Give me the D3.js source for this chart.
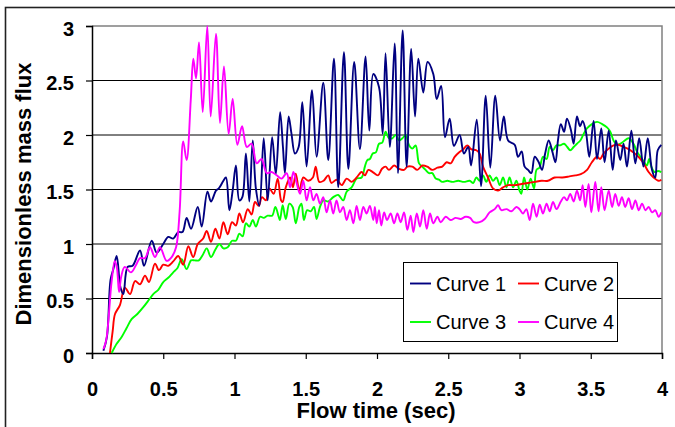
<!DOCTYPE html>
<html>
<head>
<meta charset="utf-8">
<script src="https://cdn.jsdelivr.net/npm/d3@7"></script>
<style>
  body { margin: 0; background: #fff; }
  svg { display: block; font-family: Arial, "Liberation Sans", sans-serif; }
</style>
</head>
<body>
<div id="chart"></div>
<script>
// DATA
var seriesNames = ["Curve 1", "Curve 2", "Curve 3", "Curve 4"];
var xTicks = [0, 0.5, 1, 1.5, 2, 2.5, 3, 3.5, 4];
var yTicks = [0, 0.5, 1, 1.5, 2, 2.5, 3];

var curve1Time = [0.08,0.105,0.13,0.15,0.173,0.2,0.22,0.25,0.285,0.337,0.365,0.419,0.454,0.5,0.535,0.57,0.605,0.635,0.664,0.695,0.742,0.77,0.81,0.835,0.87,0.89,0.922,0.94,0.964,0.987,1.01,1.034,1.055,1.08,1.104,1.128,1.15,1.175,1.205,1.233,1.264,1.29,1.32,1.34,1.354,1.38,1.40,1.424,1.45,1.476,1.506,1.544,1.576,1.623,1.658,1.698,1.728,1.768,1.799,1.84,1.88,1.92,1.946,1.974,2.014,2.04,2.06,2.09,2.124,2.147,2.18,2.208,2.24,2.267,2.29,2.325,2.355,2.395,2.419,2.45,2.477,2.51,2.54,2.58,2.61,2.64,2.66,2.70,2.73,2.763,2.795,2.83,2.863,2.89,2.92,2.966,2.99,3.015,3.036,3.06,3.083,3.107,3.135,3.158,3.18,3.205,3.23,3.252,3.27,3.29,3.313,3.333,3.36,3.38,3.403,3.425,3.443,3.466,3.49,3.52,3.544,3.574,3.597,3.626,3.654,3.677,3.707,3.73,3.754,3.785,3.813,3.84,3.87,3.9,3.93,3.953,3.97,3.995];
var curve1Flux = [0.02,0.15,0.67,0.77,0.89,0.6,0.54,0.79,0.80,0.94,0.80,1.03,0.92,1.0,1.065,1.05,1.11,1.11,1.24,1.14,1.34,1.16,1.48,1.39,1.49,1.51,1.58,1.61,1.31,1.49,1.72,1.40,1.43,1.83,1.39,1.95,1.51,1.35,1.97,1.40,1.98,1.64,2.21,1.89,1.65,2.17,2.01,1.83,1.89,2.30,1.71,2.41,1.80,2.48,1.77,2.70,1.52,2.76,1.69,2.67,1.87,2.72,2.04,2.56,2.44,2.01,2.75,1.89,2.84,1.65,2.96,1.71,2.79,2.17,2.70,2.39,2.67,2.56,2.33,2.45,1.98,2.15,1.90,2.00,1.83,1.89,1.72,2.14,1.53,2.36,1.70,2.36,1.95,2.17,1.95,1.91,1.80,1.85,1.71,1.68,1.65,1.80,1.75,1.68,1.83,1.95,1.85,1.75,1.95,2.10,2.03,2.15,2.05,1.92,2.17,2.08,2.13,2.03,1.80,2.13,1.78,2.06,1.75,2.04,1.68,1.95,1.77,1.92,1.71,2.04,1.74,1.97,1.71,1.97,1.68,1.61,1.86,1.91];

var curve2Time = [0.126,0.145,0.161,0.196,0.23,0.267,0.302,0.337,0.372,0.40,0.442,0.47,0.50,0.535,0.57,0.605,0.64,0.676,0.71,0.742,0.78,0.805,0.835,0.866,0.894,0.922,0.952,0.983,1.01,1.034,1.06,1.093,1.12,1.144,1.17,1.193,1.22,1.245,1.275,1.303,1.327,1.338,1.36,1.39,1.41,1.43,1.455,1.483,1.518,1.55,1.57,1.595,1.625,1.658,1.68,1.717,1.752,1.787,1.822,1.857,1.892,1.915,1.939,1.97,2.007,2.035,2.06,2.084,2.12,2.155,2.19,2.213,2.248,2.283,2.318,2.353,2.388,2.424,2.458,2.489,2.517,2.545,2.575,2.606,2.634,2.66,2.697,2.72,2.744,2.779,2.814,2.85,2.885,2.92,2.966,3.013,3.06,3.107,3.155,3.2,3.247,3.3,3.35,3.392,3.43,3.474,3.508,3.544,3.565,3.59,3.626,3.66,3.695,3.73,3.765,3.8,3.835,3.871,3.906,3.941,3.976,3.995];
var curve2Flux = [0,0.2,0.355,0.44,0.60,0.54,0.66,0.63,0.71,0.65,0.82,0.76,0.81,0.80,0.84,0.89,0.81,0.98,0.88,1.0,1.05,1.12,1.02,1.14,1.05,1.20,1.09,1.20,1.17,1.28,1.20,1.32,1.27,1.385,1.35,1.43,1.40,1.51,1.46,1.60,1.40,1.385,1.52,1.61,1.52,1.645,1.49,1.61,1.58,1.61,1.71,1.57,1.58,1.63,1.56,1.59,1.54,1.60,1.57,1.61,1.66,1.63,1.68,1.66,1.63,1.69,1.71,1.68,1.72,1.69,1.68,1.71,1.71,1.68,1.72,1.71,1.68,1.70,1.71,1.75,1.74,1.80,1.84,1.87,1.905,1.87,1.86,1.83,1.71,1.61,1.51,1.49,1.52,1.54,1.54,1.55,1.56,1.57,1.58,1.58,1.61,1.61,1.62,1.63,1.64,1.68,1.75,1.80,1.78,1.83,1.875,1.905,1.91,1.89,1.87,1.84,1.80,1.74,1.66,1.61,1.58,1.59];

var curve3Time = [0.138,0.173,0.208,0.243,0.278,0.32,0.36,0.395,0.43,0.465,0.50,0.535,0.57,0.60,0.629,0.664,0.695,0.72,0.75,0.777,0.805,0.835,0.866,0.894,0.922,0.952,0.983,1.01,1.034,1.057,1.08,1.104,1.128,1.15,1.18,1.205,1.233,1.264,1.287,1.31,1.319,1.338,1.36,1.385,1.408,1.43,1.455,1.47,1.487,1.51,1.535,1.558,1.576,1.6,1.623,1.658,1.693,1.728,1.763,1.787,1.822,1.857,1.892,1.915,1.932,1.95,1.97,1.992,2.014,2.037,2.06,2.084,2.108,2.131,2.155,2.178,2.201,2.225,2.248,2.271,2.295,2.318,2.341,2.365,2.388,2.412,2.435,2.458,2.494,2.529,2.57,2.61,2.65,2.675,2.697,2.72,2.744,2.767,2.79,2.814,2.838,2.861,2.885,2.908,2.93,2.955,2.978,3.0,3.013,3.032,3.055,3.078,3.102,3.119,3.14,3.165,3.19,3.212,3.235,3.259,3.285,3.313,3.335,3.356,3.38,3.403,3.427,3.45,3.473,3.508,3.544,3.58,3.614,3.637,3.66,3.684,3.707,3.73,3.766,3.8,3.824,3.848,3.871,3.894,3.91,3.925,3.948,3.972,3.995];
var curve3Flux = [0,0.085,0.147,0.23,0.31,0.36,0.42,0.48,0.54,0.58,0.65,0.69,0.74,0.78,0.86,0.77,0.85,0.85,0.85,0.90,0.96,0.88,0.95,1.0,0.96,0.97,1.03,1.03,1.095,1.07,1.19,1.16,1.22,1.16,1.25,1.24,1.26,1.26,1.34,1.25,1.22,1.355,1.23,1.37,1.34,1.19,1.34,1.37,1.22,1.31,1.30,1.34,1.23,1.34,1.40,1.39,1.43,1.45,1.40,1.48,1.52,1.60,1.61,1.71,1.77,1.78,1.83,1.84,1.92,1.93,2.03,1.97,1.97,2.0,1.95,1.97,2.0,1.905,1.875,1.905,1.74,1.71,1.68,1.65,1.65,1.60,1.59,1.57,1.58,1.57,1.58,1.57,1.58,1.56,1.61,1.58,1.63,1.57,1.63,1.58,1.61,1.54,1.61,1.52,1.61,1.52,1.58,1.49,1.46,1.61,1.50,1.60,1.51,1.68,1.70,1.80,1.78,1.89,1.86,1.905,1.905,1.92,1.89,1.86,1.89,1.92,1.95,2.01,2.06,2.10,2.12,2.10,2.07,2.03,1.95,1.91,1.92,1.94,1.97,1.92,1.85,1.80,1.76,1.72,1.78,1.71,1.66,1.67,1.66];

var curve4Time = [0.08,0.10,0.138,0.16,0.175,0.19,0.205,0.23,0.274,0.31,0.337,0.372,0.407,0.442,0.477,0.524,0.559,0.59,0.615,0.64,0.664,0.693,0.711,0.73,0.751,0.777,0.809,0.833,0.87,0.898,0.926,0.959,0.987,1.02,1.053,1.086,1.12,1.156,1.19,1.226,1.26,1.296,1.33,1.366,1.39,1.413,1.436,1.46,1.483,1.506,1.53,1.553,1.576,1.6,1.623,1.646,1.67,1.693,1.716,1.74,1.763,1.787,1.81,1.834,1.857,1.88,1.904,1.927,1.95,1.974,1.985,1.998,2.014,2.03,2.05,2.07,2.096,2.12,2.143,2.166,2.19,2.213,2.236,2.255,2.279,2.302,2.325,2.349,2.372,2.395,2.424,2.447,2.482,2.517,2.552,2.587,2.622,2.653,2.68,2.72,2.756,2.79,2.826,2.85,2.873,2.908,2.943,2.978,3.0,3.025,3.048,3.072,3.095,3.12,3.142,3.165,3.19,3.212,3.235,3.26,3.29,3.313,3.333,3.356,3.38,3.403,3.425,3.443,3.462,3.485,3.504,3.532,3.555,3.574,3.597,3.626,3.65,3.672,3.696,3.719,3.742,3.766,3.79,3.813,3.837,3.86,3.884,3.907,3.93,3.953,3.976,3.995];
var curve4Flux = [0.035,0.12,0.66,0.845,0.78,0.56,0.70,0.79,0.74,0.81,0.87,0.87,0.97,0.88,0.97,0.845,0.88,0.97,1.3,1.94,1.77,2.32,2.70,2.52,2.85,2.21,3.0,2.17,2.93,2.11,2.63,2.01,2.33,1.91,2.08,1.89,1.92,1.74,1.78,1.65,1.66,1.63,1.60,1.65,1.52,1.66,1.56,1.46,1.58,1.40,1.52,1.40,1.46,1.37,1.43,1.29,1.40,1.28,1.40,1.29,1.34,1.22,1.31,1.19,1.35,1.22,1.34,1.28,1.35,1.22,1.34,1.19,1.31,1.17,1.29,1.22,1.28,1.19,1.28,1.20,1.29,1.13,1.26,1.11,1.28,1.16,1.31,1.14,1.28,1.19,1.25,1.20,1.25,1.22,1.24,1.23,1.25,1.24,1.20,1.20,1.23,1.29,1.32,1.355,1.31,1.32,1.30,1.34,1.32,1.28,1.32,1.22,1.37,1.25,1.36,1.28,1.37,1.30,1.385,1.32,1.39,1.43,1.40,1.46,1.39,1.49,1.40,1.54,1.34,1.55,1.29,1.57,1.30,1.52,1.31,1.49,1.34,1.46,1.35,1.43,1.34,1.42,1.32,1.40,1.31,1.37,1.31,1.34,1.29,1.31,1.25,1.29];

var seriesColors = ["#000080", "#ff0000", "#00ff00", "#ff00ff"];

var width = 675, height = 427;
var margin = {top: 26, right: 13, bottom: 74, left: 92};

var svg = d3.select("#chart").append("svg")
  .attr("width", width)
  .attr("height", height);

svg.append("rect")
  .attr("width", width).attr("height", height)
  .attr("fill", "#fff");

// outer chart border (runs off the right and bottom edge)
svg.append("rect")
  .attr("x", 5.5).attr("y", 7.5)
  .attr("width", 700).attr("height", 450)
  .attr("fill", "none")
  .attr("stroke", "#222")
  .attr("stroke-width", 1.6);

// SCALES
var xScale = d3.scaleLinear().domain([0, 4]).range([margin.left, width - margin.right]);
var yScale = d3.scaleLinear().domain([0, 3]).range([height - margin.bottom, margin.top]);

// GRID
svg.append("g").attr("class", "grid")
  .selectAll("line").data(yTicks.filter(function (d) { return d > 0 && d < 3; }))
  .enter().append("line")
  .attr("x1", xScale(0)).attr("x2", xScale(4))
  .attr("y1", function (d) { return yScale(d); })
  .attr("y2", function (d) { return yScale(d); })
  .attr("stroke", "#000")
  .attr("stroke-width", 1);

// plot area border, top and right in grey
svg.append("path")
  .attr("d", "M" + xScale(0) + "," + yScale(3) + "H" + xScale(4) + "V" + yScale(0))
  .attr("fill", "none")
  .attr("stroke", "#808080")
  .attr("stroke-width", 1.5);

// AXES
var xAxis = d3.axisBottom(xScale).tickValues(xTicks).tickSize(6).tickPadding(18)
  .tickFormat(d3.format("~g"));
var yAxis = d3.axisLeft(yScale).tickValues(yTicks).tickSize(6).tickPadding(12)
  .tickFormat(d3.format("~g"));

var gx = svg.append("g")
  .attr("transform", "translate(0," + yScale(0) + ")")
  .call(xAxis);
var gy = svg.append("g")
  .attr("transform", "translate(" + xScale(0) + ",0)")
  .call(yAxis);

[gx, gy].forEach(function (g) {
  g.select(".domain").attr("stroke", "#000").attr("stroke-width", 1.5);
  g.selectAll(".tick line").attr("stroke", "#000").attr("stroke-width", 1.2);
  g.selectAll(".tick text")
    .attr("fill", "#000")
    .style("font-size", "20px")
    .style("font-weight", "bold")
    .style("font-family", "Arial, 'Liberation Sans', sans-serif");
});
gy.selectAll(".tick text").attr("dy", "0.45em");
gx.selectAll(".tick text").attr("dy", "0.95em");

// AXIS TITLES
svg.append("text")
  .attr("x", 376).attr("y", 418)
  .attr("text-anchor", "middle")
  .style("font-size", "22px").style("font-weight", "bold")
  .text("Flow time (sec)");

svg.append("text")
  .attr("transform", "translate(31,194) rotate(-90)")
  .attr("text-anchor", "middle")
  .style("font-size", "22px").style("font-weight", "bold")
  .text("Dimensionless mass flux");

// CURVES
var seriesData = [
  d3.zip(curve1Time, curve1Flux),
  d3.zip(curve2Time, curve2Flux),
  d3.zip(curve3Time, curve3Flux),
  d3.zip(curve4Time, curve4Flux)
];

var line = d3.line()
  .x(function (d) { return xScale(d[0]); })
  .y(function (d) { return yScale(d[1]); })
  .curve(d3.curveCatmullRom.alpha(0.5));

var plot = svg.append("g").attr("class", "curves");
// draw order: 3, 2, 1, 4 (magenta on top at the start, navy above red/green)
[2, 1, 0, 3].forEach(function (i) {
  plot.append("path")
    .datum(seriesData[i])
    .attr("d", line)
    .attr("fill", "none")
    .attr("stroke", seriesColors[i])
    .attr("stroke-width", 1.9)
    .attr("stroke-linejoin", "round");
});

// LEGEND
var legend = svg.append("g").attr("class", "legend");
legend.append("rect")
  .attr("x", 403.5).attr("y", 262.5)
  .attr("width", 214).attr("height", 79)
  .attr("fill", "#fff")
  .attr("stroke", "#000")
  .attr("stroke-width", 1);

var items = legend.selectAll(".item").data(seriesNames)
  .enter().append("g")
  .attr("class", "item")
  .attr("transform", function (d, i) {
    return "translate(" + (410 + (i % 2) * 108) + "," + (283.5 + Math.floor(i / 2) * 38.5) + ")";
  });

items.append("line")
  .attr("x1", 0).attr("x2", 21)
  .attr("stroke", function (d, i) { return seriesColors[i]; })
  .attr("stroke-width", 1.9);

items.append("text")
  .attr("x", 26).attr("dy", "0.37em")
  .style("font-size", "20px")
  .text(function (d) { return d; });
</script>
</body>
</html>
